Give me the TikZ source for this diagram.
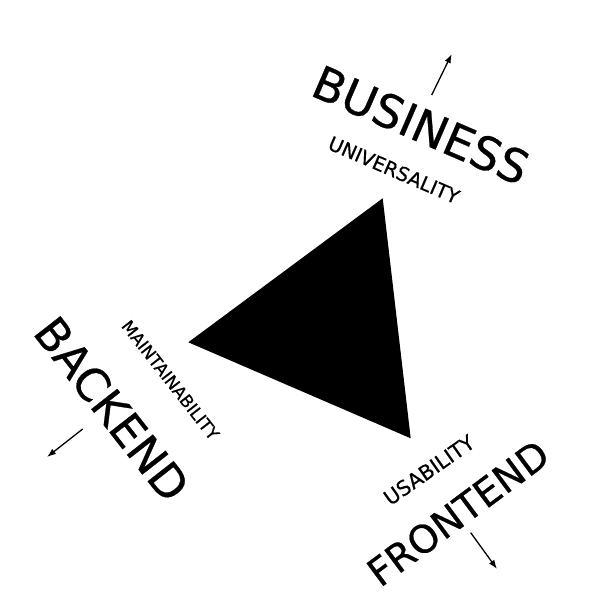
\documentclass[tikz,border=0pt]{standalone}
\usepackage{fontspec}
\setmainfont{DejaVu Sans}[FakeBold=0.5]
\newfontfamily\wordfont{DejaVu Sans}[FakeBold=0.6]
\usetikzlibrary{arrows.meta}

\begin{document}
\begin{tikzpicture}[x=1pt,y=1pt,
	word/.style={inner sep=0pt,font=\wordfont\fontsize{#1}{#1}\selectfont},
	outarrow/.style={-{Latex[length=9pt,width=6.5pt]},line width=1.3pt}]
	\useasboundingbox (0,0) rectangle (605,605);
	% triangle
	\coordinate (top) at (382.7,406.7);
	\coordinate (left) at (188.3,262.7);
	\coordinate (right) at (410.7,166.7);
	\fill (top) -- (left) -- (right) -- cycle;
	% business side
	\node[word=46,rotate=-23.4] (business) at (421,480) {BUSINESS};
	\node[word=19.5,rotate=-23.4] (universality) at (394,435) {UNIVERSALITY};
	\coordinate (bustail) at (431.7,510);
	\coordinate (bustip) at (451.7,551);
	\draw[outarrow] (bustail) -- (bustip);
	% backend side
	\node[word=45,rotate=-52] (backend) at (112,196) {BACKEND};
	\node[word=17,rotate=-52] (maintainability) at (170.5,225) {MAINTAINABILITY};
	\coordinate (backtail) at (82.7,176);
	\coordinate (backtip) at (47,148);
	\draw[outarrow] (backtail) -- (backtip);
	% frontend side
	\node[word=38.5,rotate=36.6] (frontend) at (458,92) {FRONTEND};
	\node[word=20.5,rotate=35] (usability) at (429,135) {USABILITY};
	\coordinate (fronttail) at (470.7,72.3);
	\coordinate (fronttip) at (497,36);
	\draw[outarrow] (fronttail) -- (fronttip);
\end{tikzpicture}
\end{document}
